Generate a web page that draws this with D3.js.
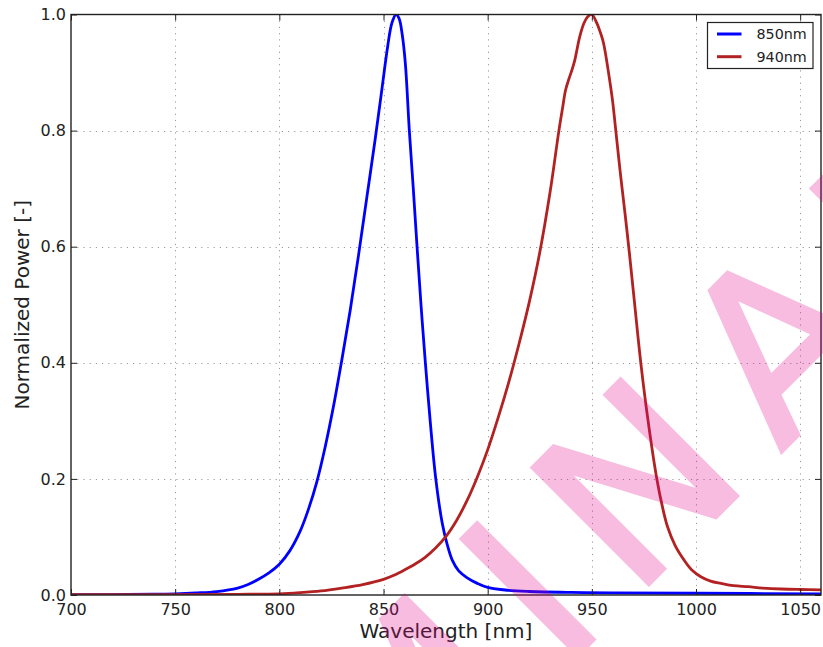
<!DOCTYPE html>
<html>
<head>
<meta charset="utf-8">
<script src="https://cdn.jsdelivr.net/npm/d3@7"></script>
<style>
  html, body { margin: 0; padding: 0; background: #ffffff; }
  svg { display: block; }
</style>
</head>
<body>
<div id="chart"></div>
<script>
// ---------- data ----------
const seriesNames = ["850nm", "940nm"];
const seriesColors = ["#0000ff", "#b22222"];

const blueWl = [700, 720, 740, 750, 760, 770, 780, 785, 790, 795, 800, 805, 810, 814, 818, 822, 826, 830, 834, 838, 842, 846, 849, 852, 854, 856, 857.5, 859, 860.5, 862.4, 864.3, 866.1, 868, 870.1, 872.5, 875.1, 878.2, 880.5, 883, 886, 890, 895, 900, 910, 920, 940, 960, 1000, 1060];
const blueVal = [0.0005, 0.0008, 0.0015, 0.002, 0.0035, 0.006, 0.012, 0.018, 0.027, 0.038, 0.053, 0.076, 0.11, 0.148, 0.195, 0.255, 0.325, 0.405, 0.49, 0.585, 0.685, 0.785, 0.865, 0.945, 0.985, 1.0, 0.993, 0.965, 0.915, 0.8, 0.7, 0.6, 0.5, 0.4, 0.296, 0.2, 0.1235, 0.088, 0.06, 0.042, 0.03, 0.02, 0.013, 0.008, 0.006, 0.0045, 0.0038, 0.003, 0.002];

const redWl = [700, 750, 780, 800, 810, 820, 830, 840, 850, 855, 860, 865, 870, 875, 880, 885, 890, 895, 900, 905, 910, 915, 920, 925, 930, 934.2, 936, 937.4, 939, 940.5, 941.8, 943, 944.2, 946.2, 948, 950, 952.4, 954, 955.6, 958.3, 960, 961.5, 963.9, 966, 968, 970.3, 973.5, 977, 981.2, 984, 986.3, 990, 994.3, 998, 1002.3, 1007, 1012, 1018, 1025, 1032, 1041, 1050, 1060];
const redVal = [0.0005, 0.0008, 0.0012, 0.002, 0.004, 0.007, 0.012, 0.018, 0.027, 0.034, 0.043, 0.053, 0.065, 0.081, 0.101, 0.128, 0.162, 0.203, 0.25, 0.305, 0.365, 0.432, 0.505, 0.59, 0.695, 0.8, 0.84, 0.87, 0.889, 0.905, 0.921, 0.942, 0.962, 0.985, 0.996, 1.0, 0.985, 0.97, 0.951, 0.893, 0.85, 0.8, 0.72, 0.655, 0.59, 0.51, 0.4, 0.3, 0.2, 0.15, 0.118, 0.085, 0.06, 0.043, 0.0315, 0.024, 0.02, 0.016, 0.0143, 0.012, 0.0103, 0.0095, 0.009];

const xTicks = [700, 750, 800, 850, 900, 950, 1000, 1050];
const yTicks = [0, 0.2, 0.4, 0.6, 0.8, 1.0];
const xLabel = "Wavelength [nm]";
const yLabel = "Normalized Power [-]";
const watermarkText = "PRELIMINARY";

// ---------- layout ----------
const W = 823, H = 647;
const pL = 71, pR = 821, pT = 14.5, pB = 595;
const font = "DejaVu Sans, Verdana, sans-serif";
const textColor = "#222";

const svg = d3.select("#chart").append("svg")
  .attr("width", W).attr("height", H)
  .style("background", "#fff");

const x = d3.scaleLinear().domain([700, 1060]).range([pL, pR]);
const y = d3.scaleLinear().domain([0, 1]).range([pB, pT]);

svg.append("defs").append("clipPath").attr("id", "plotclip")
  .append("rect").attr("x", pL).attr("y", pT)
  .attr("width", pR - pL).attr("height", pB - pT);

// grid
const grid = svg.append("g").attr("stroke", "#9a9a9a").attr("stroke-width", 1)
  .attr("stroke-dasharray", "1.2,5");
grid.selectAll(".gx").data(xTicks.filter(d => d > 700)).enter().append("line")
  .attr("x1", d => Math.round(x(d)) + 0.5).attr("x2", d => Math.round(x(d)) + 0.5)
  .attr("y1", pT).attr("y2", pB);
grid.selectAll(".gy").data(yTicks.filter(d => d > 0 && d < 1)).enter().append("line")
  .attr("y1", d => Math.round(y(d)) + 0.5).attr("y2", d => Math.round(y(d)) + 0.5)
  .attr("x1", pL).attr("x2", pR);

// curves
const line = d3.line().x(d => x(d[0])).y(d => y(d[1])).curve(d3.curveCatmullRom.alpha(0.5));
const blueData = blueWl.map((w, i) => [w, blueVal[i]]);
const redData = redWl.map((w, i) => [w, redVal[i]]);
const curves = svg.append("g").attr("clip-path", "url(#plotclip)");
curves.append("path").datum(blueData).attr("d", line)
  .attr("fill", "none").attr("stroke", seriesColors[0]).attr("stroke-width", 2.8)
  .attr("stroke-linejoin", "round");
curves.append("path").datum(redData).attr("d", line)
  .attr("fill", "none").attr("stroke", seriesColors[1]).attr("stroke-width", 2.8)
  .attr("stroke-linejoin", "round");

// axes
function styleAxis(g) {
  g.select(".domain").remove();
  g.selectAll(".tick line").attr("stroke", textColor).attr("stroke-width", 1);
  g.selectAll(".tick text").attr("fill", textColor).attr("font-family", font).attr("font-size", 16);
}
svg.append("g").attr("transform", `translate(0,${pB})`)
  .call(d3.axisBottom(x).tickValues(xTicks).tickSize(-6).tickPadding(8.5).tickFormat(d3.format("d")))
  .call(styleAxis);
svg.append("g").attr("transform", `translate(0,${pT})`)
  .call(d3.axisTop(x).tickValues(xTicks).tickSize(-6).tickFormat(""))
  .call(styleAxis);
svg.append("g").attr("transform", `translate(${pL},0)`)
  .call(d3.axisLeft(y).tickValues(yTicks).tickSize(-6).tickPadding(5).tickFormat(d3.format(".1f")))
  .call(styleAxis);
svg.append("g").attr("transform", `translate(${pR},0)`)
  .call(d3.axisRight(y).tickValues(yTicks).tickSize(-6).tickFormat(""))
  .call(styleAxis);

// frame
svg.append("rect").attr("x", pL).attr("y", pT)
  .attr("width", pR - pL).attr("height", pB - pT)
  .attr("fill", "none").attr("stroke", textColor).attr("stroke-width", 1.4);

// axis labels
svg.append("text").attr("x", (pL + pR) / 2).attr("y", 638)
  .attr("text-anchor", "middle").attr("font-family", font).attr("font-size", 20)
  .attr("fill", textColor).text(xLabel);
svg.append("text").attr("transform", `translate(29,${(pT + pB) / 2}) rotate(-90)`)
  .attr("text-anchor", "middle").attr("font-family", font).attr("font-size", 20)
  .attr("fill", textColor).text(yLabel);

// legend
const lg = svg.append("g");
lg.append("rect").attr("x", 707.5).attr("y", 22.5).attr("width", 105.5).attr("height", 46)
  .attr("fill", "#fff").attr("stroke", textColor).attr("stroke-width", 1.2);
seriesNames.forEach((name, i) => {
  const ly = 34 + i * 22.7;
  lg.append("line").attr("x1", 717).attr("x2", 741.5).attr("y1", ly).attr("y2", ly)
    .attr("stroke", seriesColors[i]).attr("stroke-width", 3);
  lg.append("text").attr("x", 756.5).attr("y", ly + 5.3)
    .attr("font-family", font).attr("font-size", 14.3).attr("fill", textColor).text(name);
});

// watermark
const wmg = svg.append("g").attr("opacity", 0.26).style("pointer-events", "none");
const wm = wmg.append("text")
  .attr("font-family", "DejaVu Sans").attr("font-size", 226)
  .attr("fill", "rgb(225,0,135)").attr("stroke", "rgb(225,0,135)").attr("stroke-width", 4)
  .attr("dx", "0 36 36 36 36 36 36 34 39 32 30")
  .text(watermarkText);
let startI = 0;
try { startI = wm.node().getStartPositionOfChar(6).x; } catch (e) { startI = 1000; }
const u0 = -43.8 - 33.2 - startI;
const n0 = 872;
const s2 = Math.SQRT2;
const tx = (u0 * s2 + n0 * s2) / 2;
const ty = (n0 * s2 - u0 * s2) / 2;
wm.attr("transform", `translate(${tx},${ty}) rotate(-45)`);
</script>
</body>
</html>
